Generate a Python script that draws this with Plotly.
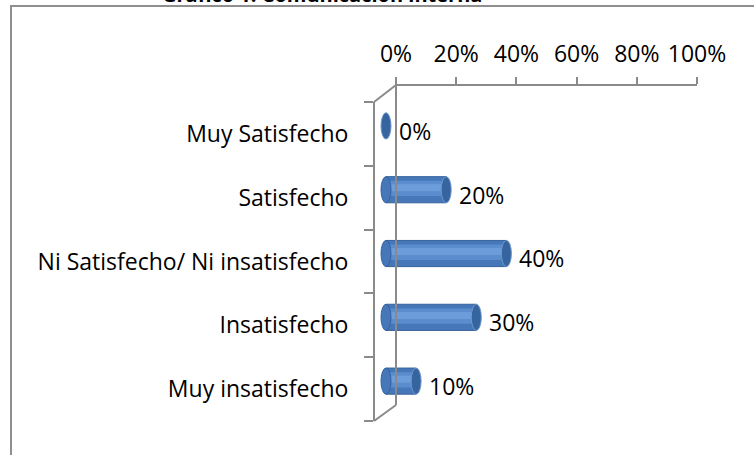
import plotly.graph_objects as go

W, H = 754, 455

# data
categories = ["Muy insatisfecho", "Insatisfecho", "Ni Satisfecho/ Ni insatisfecho",
              "Satisfecho", "Muy Satisfecho"]
values = [0.10, 0.30, 0.40, 0.20, 0.0]
value_labels = ["10%", "30%", "40%", "20%", "0%"]
x_ticks = [0, 0.2, 0.4, 0.6, 0.8, 1.0]
x_tick_labels = ["0%", "20%", "40%", "60%", "80%", "100%"]
title_text = "Gráfico 1: Comunicación interna"

FONT = "Open Sans"
FS = 23
AXIS_GRAY = "#8a8a8a"
BODY = "#4677b8"
BODY_DARK = "#34629c"
MID = "#5a8cce"
HIGHLIGHT = "#6d9cdb"
CAP = "#36649f"

def px(x):
    return x / W

def py(y):
    return (H - y) / H

# bar geometry in category units (band = 1)
bar_w = 0.41
lift = 0.125          # 3d offset: bars sit a bit above the band centre
hw = 5 / 301          # half width of the end ellipse, in x data units
pad = 0.05            # room left of zero for the rounded bar ends
idx = list(range(len(categories)))

fig = go.Figure()

# cylinder body, with two lighter stripes for the shading
for w, dy, col, ln in [(bar_w, 0, BODY, dict(color=BODY_DARK, width=1)),
                       (0.24, 0.02, MID, dict(width=0)),
                       (0.11, 0.03, HIGHLIGHT, dict(width=0))]:
    fig.add_trace(go.Bar(
        y=categories, x=values, orientation="h",
        width=w, offset=lift + dy - w / 2,
        marker=dict(color=col, line=ln),
        hoverinfo="skip", showlegend=False,
    ))
# invisible trace so the top label axis is drawn
fig.add_trace(go.Scatter(
    x=[0, 1], y=[categories[0], categories[0]], xaxis="x2", yaxis="y",
    mode="markers", marker=dict(opacity=0), hoverinfo="skip", showlegend=False,
))

shapes = []
annotations = []
for i, v, lab in zip(idx, values, value_labels):
    yc = i + lift
    # rounded left end
    if v > 0:
        shapes.append(dict(type="circle", xref="x", yref="y",
                           x0=-hw, x1=hw, y0=yc - bar_w / 2, y1=yc + bar_w / 2,
                           fillcolor=BODY, line=dict(color=BODY_DARK, width=1)))
    # right end cap
    shapes.append(dict(type="circle", xref="x", yref="y",
                       x0=v - hw, x1=v + hw, y0=yc - bar_w / 2, y1=yc + bar_w / 2,
                       fillcolor=CAP, line=dict(color="#6f97cc", width=1)))
    annotations.append(dict(x=v, y=i + 0.05, xref="x", yref="y", text=lab,
                            showarrow=False, xanchor="left", yanchor="middle",
                            xshift=11, font=dict(family=FONT, size=FS, color="#000000")))

# 3d wall edges
line = dict(color=AXIS_GRAY, width=2)
shapes += [
    dict(type="line", xref="paper", yref="paper", x0=px(396), x1=px(396),
         y0=py(77), y1=py(405), line=line),
    dict(type="line", xref="paper", yref="paper", x0=px(374), x1=px(396),
         y0=py(102), y1=py(85), line=line),
    dict(type="line", xref="paper", yref="paper", x0=px(374), x1=px(396),
         y0=py(421), y1=py(405), line=line),
    # outer chart frame
    dict(type="rect", xref="paper", yref="paper", x0=px(11), x1=1.1,
         y0=-0.1, y1=py(6), line=dict(color="#8f8f8f", width=2),
         fillcolor="rgba(0,0,0,0)"),
]

# title sits above the visible area, only its lowest pixels show
annotations.append(dict(x=px(322), y=py(10), xref="paper", yref="paper",
                        text="<b>" + title_text + "</b>", showarrow=False,
                        xanchor="center", yanchor="bottom",
                        font=dict(family=FONT, size=20, color="#000000")))

fig.update_layout(
    width=W, height=H,
    margin=dict(l=0, r=0, t=0, b=0, autoexpand=False),
    paper_bgcolor="white", plot_bgcolor="rgba(0,0,0,0)",
    barmode="overlay",
    shapes=shapes, annotations=annotations,
    font=dict(family=FONT, size=FS, color="#000000"),
    xaxis=dict(domain=[px(386 - pad * 301), px(687)], range=[-pad, 1],
               visible=False, anchor="y", fixedrange=True, automargin=False),
    xaxis2=dict(domain=[px(396), px(697)], range=[0, 1], anchor="free",
                position=py(85), side="top", tickvals=x_ticks,
                ticktext=x_tick_labels, ticks="outside", ticklen=7,
                tickcolor=AXIS_GRAY, tickwidth=2, showline=True,
                linecolor=AXIS_GRAY, linewidth=2, showgrid=False,
                zeroline=False, ticklabelstandoff=6, automargin=False,
                tickfont=dict(family=FONT, size=FS, color="#000000")),
    yaxis=dict(domain=[py(421), py(102)], range=[-0.5, 4.5],
               categoryorder="array", categoryarray=categories,
               anchor="free", position=px(374), tickson="boundaries",
               ticks="outside", ticklen=9, tickcolor=AXIS_GRAY, tickwidth=2,
               showline=True, linecolor=AXIS_GRAY, linewidth=2,
               showgrid=False, zeroline=False, ticklabelstandoff=20,
               automargin=False,
               tickfont=dict(family=FONT, size=FS, color="#000000")),
)

fig.write_html("out.html", config={"displayModeBar": False},
               post_script="document.body.style.margin = '0';")
